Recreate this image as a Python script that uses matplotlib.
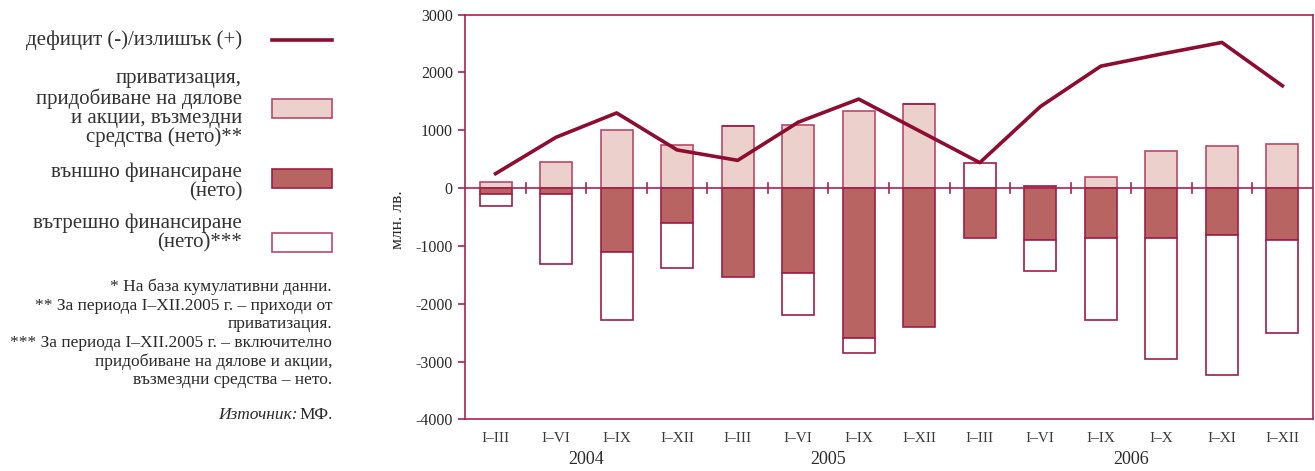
import numpy as np
import matplotlib
matplotlib.use("Agg")
import matplotlib.pyplot as plt
from matplotlib.patches import Rectangle
from matplotlib.lines import Line2D
from matplotlib.transforms import blended_transform_factory

plt.rcParams['font.family'] = ['Liberation Serif', 'DejaVu Serif']

# data (млн. лв.), cumulative
periods = ["I–III", "I–VI", "I–IX", "I–XII",
           "I–III", "I–VI", "I–IX", "I–XII",
           "I–III", "I–VI", "I–IX", "I–X", "I–XI", "I–XII"]
years = ["2004", "2005", "2006"]
year_groups = [(0, 3), (4, 7), (8, 13)]

balance = [250, 880, 1300, 660, 480, 1140, 1540, 990,
           440, 1410, 2110, 2320, 2520, 1770]
privatization = [100, 460, 1000, 740, 1080, 1090, 1330, 1450,
                 0, 0, 190, 650, 730, 770]
external_pos = [0, 0, 0, 0, 0, 0, 0, 0, 0, 40, 0, 0, 0, 0]
external = [-110, -100, -1110, -610, -1530, -1470, -2590, -2400,
            -860, -890, -870, -870, -820, -900]
domestic = [-200, -1210, -1170, -770, 0, -730, -260, 0,
            440, -540, -1410, -2090, -2410, -1610]

C_LINE = "#8E0C30"
C_AX = "#A8244E"
C_DARK = "#B86462"
C_LIGHT = "#ECD0CB"
C_EDGE = "#A01E45"
C_TXT = "#2A2A2A"

W, H = 1315, 471
fig = plt.figure(figsize=(W / 100, H / 100), dpi=100)
ax = fig.add_axes([465.3 / W, 1 - 419.3 / H, (1312.7 - 465.3) / W, (419.3 - 14.7) / H])

x = np.arange(len(periods))
priv = np.array(privatization)
ext_top = np.array(external_pos)
ext = np.array(external)
dom = np.array(domestic)
bw = 0.53

ax.bar(x, priv, bw, bottom=0, color=C_LIGHT, edgecolor="#B84A68", linewidth=1.2, zorder=2)
ax.bar(x, ext - ext_top, bw, bottom=ext_top, color=C_DARK, edgecolor=C_EDGE, linewidth=1.2, zorder=2)
dom_bottom = np.where(dom < 0, ext, priv)
ax.bar(x, dom, bw, bottom=dom_bottom, color="white", edgecolor=C_EDGE, linewidth=1.2, zorder=2)

ax.axhline(0, color=C_AX, lw=1.2, zorder=3)
for b in np.arange(0.5, len(periods) - 1, 1.0):
    ax.plot([b, b], [-90, 90], color=C_AX, lw=1.2, zorder=3)

ax.plot(x, balance, color=C_LINE, lw=2.6, zorder=4)

ax.set_xlim(-0.5, len(periods) - 0.5)
ax.set_ylim(-4000, 3000)
ax.set_yticks(np.arange(-4000, 3001, 1000))
ax.set_yticklabels([str(v) for v in range(-4000, 3001, 1000)])
ax.set_xticks(x)
ax.set_xticklabels(periods)
ax.tick_params(axis="x", length=0, pad=9, labelsize=11, colors="#3A3A3A")
ax.tick_params(axis="y", length=5, width=1.2, color=C_AX, pad=4, labelsize=11.5, labelcolor=C_TXT)
for s in ax.spines.values():
    s.set_color(C_AX)
    s.set_linewidth(1.2)

trans = blended_transform_factory(ax.transData, ax.transAxes)
for yr, (a, b) in zip(years, year_groups):
    ax.text((a + b) / 2, -0.10, yr, transform=trans, ha="center", va="center",
            fontsize=13, color=C_TXT)

fig.text(398 / W, 1 - 220 / H, "млн. лв.", rotation=90, ha="center", va="center",
         fontsize=12.5, color=C_TXT)


def fx(px):
    return px / W


def fy(py):
    return 1 - py / H


# legend (left side)
txt_kw = dict(ha="right", va="center", fontsize=15, color="#333333")
fig.text(fx(242), fy(40), "дефицит (-)/излишък (+)", **txt_kw)
fig.add_artist(Line2D([fx(272), fx(332)], [fy(39.5), fy(39.5)], color=C_LINE, lw=2.6))

for i, t in enumerate(["приватизация,", "придобиване на дялове",
                       "и акции, възмездни", "средства (нето)**"]):
    fig.text(fx(242), fy(79 + 19.5 * i), t, **txt_kw)
fig.add_artist(Rectangle((fx(272), fy(118)), fx(60), 19 / H, transform=fig.transFigure,
                         facecolor=C_LIGHT, edgecolor="#B84A68", lw=1.2))

for i, t in enumerate(["външно финансиране", "(нето)"]):
    fig.text(fx(242), fy(172 + 20 * i), t, **txt_kw)
fig.add_artist(Rectangle((fx(272), fy(188)), fx(60), 19 / H, transform=fig.transFigure,
                         facecolor=C_DARK, edgecolor=C_EDGE, lw=1.2))

for i, t in enumerate(["вътрешно финансиране", "(нето)***"]):
    fig.text(fx(242), fy(223 + 20 * i), t, **txt_kw)
fig.add_artist(Rectangle((fx(272), fy(252)), fx(60), 19 / H, transform=fig.transFigure,
                         facecolor="white", edgecolor="#B84A68", lw=1.2))

notes = ["* На база кумулативни данни.",
         "** За периода I–XII.2005 г. – приходи от",
         "приватизация.",
         "*** За периода I–XII.2005 г. – включително",
         "придобиване на дялове и акции,",
         "възмездни средства – нето."]
for i, t in enumerate(notes):
    fig.text(fx(332), fy(287 + 18.7 * i), t, ha="right", va="center", fontsize=12.5, color=C_TXT)
fig.text(fx(333), fy(415), "МФ.", ha="right", va="center", fontsize=12.5, color=C_TXT)
fig.text(fx(298), fy(415), "Източник:", ha="right", va="center", fontsize=12.5,
         style="italic", color=C_TXT)

fig.savefig("out.png", dpi=100)
